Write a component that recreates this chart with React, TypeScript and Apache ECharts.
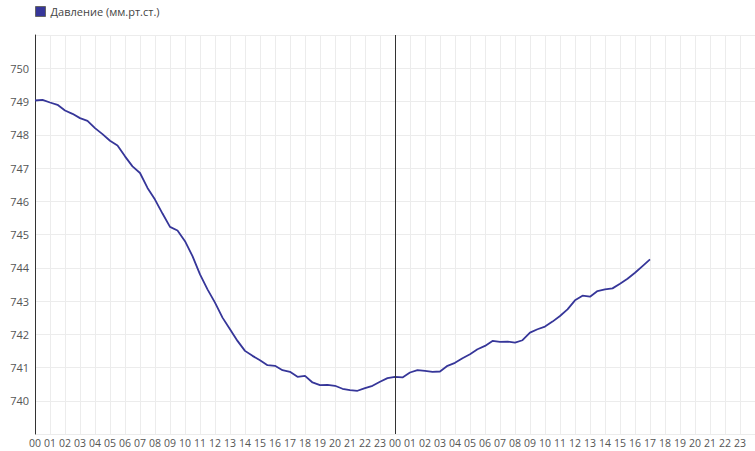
import React, { useEffect, useRef } from "react";
import * as echarts from "echarts";

const seriesName = "Давление (мм.рт.ст.)";

// hours since start of first day
const hours = [
  0, 0.5, 1, 1.5, 2, 2.5, 3, 3.5, 4, 4.5, 5, 5.5, 6, 6.5, 7, 7.5, 8, 8.5, 9, 9.5,
  10, 10.5, 11, 11.5, 12, 12.5, 13, 13.5, 14, 14.5, 15, 15.5, 16, 16.5, 17, 17.5,
  18, 18.5, 19, 19.5, 20, 20.5, 21, 21.5, 22, 22.5, 23, 23.5, 24, 24.5, 25, 25.5,
  26, 26.5, 27, 27.5, 28, 28.5, 29, 29.5, 30, 30.5, 31, 31.5, 32, 32.5, 33, 33.5,
  34, 34.5, 35, 35.5, 36, 36.5, 37, 37.5, 38, 38.5, 39, 39.5, 40, 40.5, 41,
];

const pressure = [
  749.03, 749.05, 748.97, 748.9, 748.73, 748.63, 748.5, 748.42, 748.2, 748.02,
  747.82, 747.68, 747.35, 747.05, 746.85, 746.4, 746.05, 745.63, 745.23, 745.12,
  744.8, 744.35, 743.8, 743.35, 742.95, 742.5, 742.15, 741.8, 741.5, 741.35,
  741.22, 741.07, 741.05, 740.92, 740.87, 740.72, 740.75, 740.55, 740.47, 740.48,
  740.45, 740.36, 740.32, 740.3, 740.38, 740.45, 740.57, 740.68, 740.72, 740.7,
  740.85, 740.92, 740.9, 740.87, 740.88, 741.05, 741.14, 741.28, 741.4, 741.55,
  741.65, 741.8, 741.77, 741.78, 741.75, 741.82, 742.05, 742.15, 742.23, 742.38,
  742.55, 742.75, 743.02, 743.16, 743.13, 743.3, 743.35, 743.38, 743.52, 743.67,
  743.85, 744.05, 744.25,
];

const dayBoundary = 24;
const xMin = 0;
const xMax = 48;
const yMin = 739;
const yMax = 751;

export default function App() {
  const ref = useRef<HTMLDivElement>(null);

  useEffect(() => {
    if (!ref.current) return;
    document.body.style.margin = "0";
    const chart = echarts.init(ref.current, undefined, { renderer: "svg" });
    const font = "'Open Sans', 'Noto Sans', sans-serif";
    chart.setOption({
      animation: false,
      textStyle: { fontFamily: font },
      legend: {
        left: 30,
        top: 1,
        icon: "rect",
        itemWidth: 10,
        itemHeight: 10,
        itemGap: 10,
        textStyle: { fontSize: 11, color: "#444", fontFamily: font },
        itemStyle: { borderColor: "#666", borderWidth: 1 },
        data: [seriesName],
      },
      grid: { left: 35, right: 0, top: 35, bottom: 17, containLabel: false },
      xAxis: {
        type: "value",
        min: xMin,
        max: xMax,
        interval: 1,
        axisLine: { show: false },
        axisTick: { show: false },
        axisLabel: {
          fontSize: 10.5,
          color: "#555",
          margin: 3,
          showMaxLabel: false,
          fontFamily: font,
          formatter: (v: number) => String(v % 24).padStart(2, "0"),
        },
        splitLine: { show: true, lineStyle: { color: "#ececec", width: 1 } },
      },
      yAxis: {
        type: "value",
        min: yMin,
        max: yMax,
        interval: 1,
        axisLine: { show: true, lineStyle: { color: "#333", width: 1 } },
        axisTick: { show: false },
        axisLabel: {
          fontSize: 11,
          color: "#555",
          margin: 6,
          showMinLabel: false,
          showMaxLabel: false,
          fontFamily: font,
        },
        splitLine: { show: true, lineStyle: { color: "#ececec", width: 1 } },
      },
      series: [
        {
          name: seriesName,
          type: "line",
          data: hours.map((h, i) => [h, pressure[i]]),
          showSymbol: false,
          symbol: "none",
          lineStyle: { color: "#363699", width: 1.8 },
          itemStyle: { color: "#363699" },
          markLine: {
            silent: true,
            symbol: "none",
            label: { show: false },
            lineStyle: { color: "#333", width: 1, type: "solid" },
            data: [{ xAxis: dayBoundary }],
          },
        },
      ],
    });
    return () => chart.dispose();
  }, []);

  return <div ref={ref} style={{ width: 755, height: 451 }} />;
}
